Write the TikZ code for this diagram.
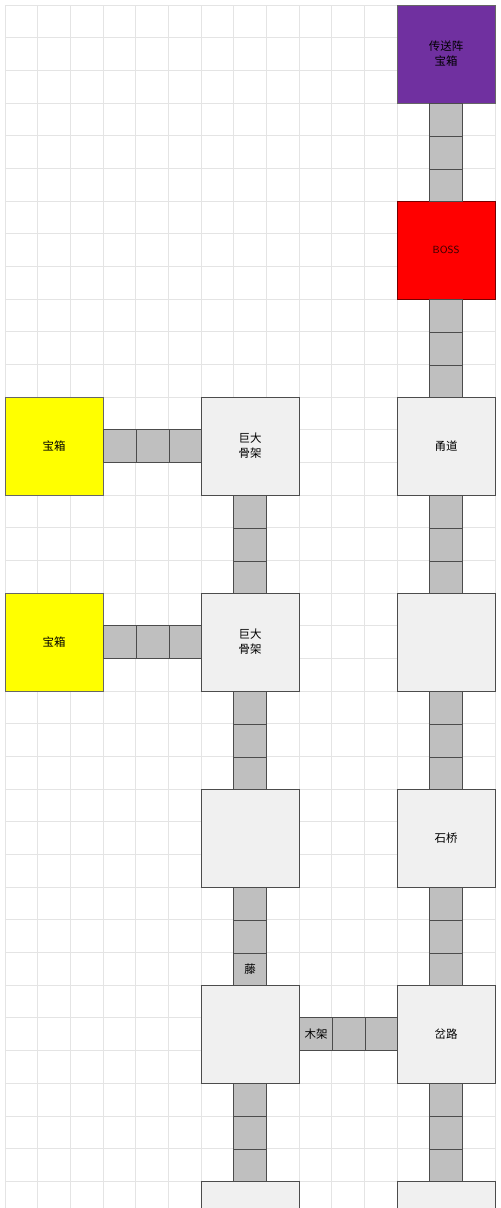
\documentclass[tikz,border=0pt]{standalone}
\usepackage{fontspec}
\setmainfont{Liberation Sans}
\newfontfamily\cjk{Noto Sans CJK SC}
\usepackage{tikz}
\usetikzlibrary{positioning}
\definecolor{tppurple}{HTML}{7030A0}
\definecolor{bossred}{HTML}{FF0000}
\definecolor{chestyellow}{HTML}{FFFF00}
\definecolor{gridgray}{HTML}{E4E4E4}

\tikzset{
  room/.style={draw=black!70, fill=black!6, line width=0.6pt, minimum size=3cm,
    inner sep=0pt, align=center, font=\cjk\fontsize{10}{13}\selectfont},
  cell/.style={draw=black!70, fill=black!25, line width=0.6pt, minimum size=1cm,
    inner sep=0pt, font=\cjk\fontsize{10}{12}\selectfont}
}

\begin{document}
\begin{tikzpicture}
\useasboundingbox (-0.153,0.153) rectangle (15.152,-36.823);
\clip (-0.153,0.153) rectangle (15.152,-36.823);
\fill[white] (-0.153,0.153) rectangle (15.152,-36.823);

% background grid
\draw[gridgray, line width=0.5pt] (0,-38) grid (15,0);

% right column
\node[room, fill=tppurple, draw=black!60] (T) at (13.5,-1.5) {传送阵\\宝箱};
\node[room, fill=bossred, draw=red!45!black, font=\sffamily\fontsize{9}{11}\selectfont, text=red!20!black] (B) at (13.5,-7.5) {BOSS};
\node[room] (Y) at (13.5,-13.5) {甬道};
\node[room] (R4) at (13.5,-19.5) {};
\node[room] (S) at (13.5,-25.5) {石桥};
\node[room] (C) at (13.5,-31.5) {岔路};
\node[room] (R7) at (13.5,-37.5) {};

% middle column
\node[room] (G1) at (7.5,-13.5) {巨大\\骨架};
\node[room] (G2) at (7.5,-19.5) {巨大\\骨架};
\node[room] (M5) at (7.5,-25.5) {};
\node[room] (M6) at (7.5,-31.5) {};
\node[room] (M7) at (7.5,-37.5) {};

% left column
\node[room, fill=chestyellow, draw=black!60] (L1) at (1.5,-13.5) {宝箱};
\node[room, fill=chestyellow, draw=black!60] (L2) at (1.5,-19.5) {宝箱};

% vertical corridors
\foreach \a/\b in {T/B, B/Y, Y/R4, R4/S, S/C, C/R7, G1/G2, G2/M5, M5/M6, M6/M7}
  \foreach \i/\d in {1/0, 2/1, 3/2}
    \node[cell, below=\d cm of \a.south] (\a\b-\i) {};

% horizontal corridors
\foreach \a/\b in {L1/G1, L2/G2, M6/C}
  \foreach \i/\d in {1/0, 2/1, 3/2}
    \node[cell, right=\d cm of \a.east] (\a\b-\i) {};

% corridor labels
\node[font=\cjk\fontsize{10}{12}\selectfont] at (M5M6-3) {藤};
\node[font=\cjk\fontsize{10}{12}\selectfont] at (M6C-1) {木架};

\end{tikzpicture}
\end{document}
